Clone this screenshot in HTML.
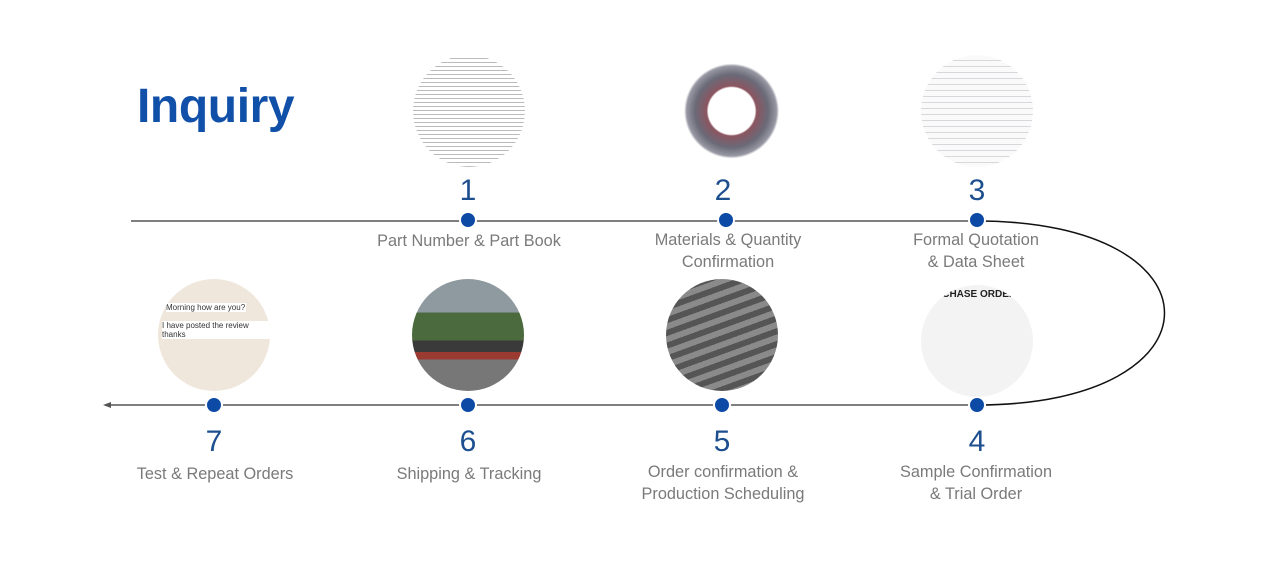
<!DOCTYPE html>
<html><head><meta charset="utf-8"><style>
body{margin:0;width:1267px;height:563px;background:#fff;position:relative;overflow:hidden;font-family:"Liberation Sans",sans-serif}
.t{position:absolute;text-align:center;color:#7a7a7a;font-size:16.3px;line-height:22px;width:240px}
.n{position:absolute;width:60px;text-align:center;color:#1d4f8f;font-size:30px;line-height:34px}
.c{position:absolute;width:112px;height:112px;border-radius:50%;overflow:hidden}
</style></head><body>
<div style="position:absolute;left:137px;top:79px;font-size:48px;font-weight:bold;color:#1150a8;letter-spacing:-0.4px">Inquiry</div>
<svg width="1267" height="563" style="position:absolute;left:0;top:0">
<line x1="131" y1="221" x2="977" y2="221" stroke="#555" stroke-width="1.5"/>
<path d="M977 221 C1227 221 1227 405 977 405" fill="none" stroke="#111" stroke-width="1.5"/>
<line x1="106" y1="405" x2="977" y2="405" stroke="#555" stroke-width="1.5"/>
<path d="M103 405 l8 -3 v6z" fill="#555"/>
<g fill="#0d4aa6" stroke="#fff" stroke-width="2">
<circle cx="468" cy="220" r="8"/><circle cx="726" cy="220" r="8"/><circle cx="977" cy="220" r="8"/>
<circle cx="214" cy="405" r="8"/><circle cx="468" cy="405" r="8"/><circle cx="722" cy="405" r="8"/><circle cx="977" cy="405" r="8"/>
</g></svg>
<div class="c" style="left:413px;top:55px;background:repeating-linear-gradient(#fff 0 3px,#bbb 3px 4px)"></div>
<div class="c" style="left:670px;top:55px;background:radial-gradient(circle at 55% 50%,#fff 0 28%,#8b5560 30%,#6a6a78 44%,#9898a4 54%,#fff 57%)"></div>
<div class="c" style="left:921px;top:55px;background:repeating-linear-gradient(#fafafa 0 5px,#d8d8dc 5px 6px)"></div>
<div class="c" style="left:921px;top:285px;background:#f3f3f3"><div style="font-size:10px;font-weight:bold;margin:4px 0 0 14px;color:#222">RCHASE ORDER</div></div>
<div class="c" style="left:666px;top:279px;background:repeating-linear-gradient(160deg,#555 0 6px,#8a8a8a 6px 12px)"></div>
<div class="c" style="left:412px;top:279px;background:linear-gradient(#8f9aa0 0 30%,#4b6b3e 30% 55%,#3a3a3a 55% 65%,#9b3a30 65% 72%,#777 72%)"></div>
<div class="c" style="left:158px;top:279px;background:#efe7dc"><div style="font-size:8px;margin:24px 0 0 8px;color:#333;background:#fff;width:80px">Morning how are you?</div><div style="font-size:8px;margin:9px 0 0 4px;color:#333;background:#fff">I have posted the review thanks</div></div>
<div class="n" style="left:438px;top:174px">1</div>
<div class="n" style="left:693px;top:174px">2</div>
<div class="n" style="left:947px;top:174px">3</div>
<div class="n" style="left:184px;top:425px">7</div>
<div class="n" style="left:438px;top:425px">6</div>
<div class="n" style="left:692px;top:425px">5</div>
<div class="n" style="left:947px;top:425px">4</div>
<div class="t" style="left:349px;top:230px">Part Number &amp; Part Book</div>
<div class="t" style="left:608px;top:229px">Materials &amp; Quantity<br>Confirmation</div>
<div class="t" style="left:856px;top:229px">Formal Quotation<br>&amp; Data Sheet</div>
<div class="t" style="left:95px;top:463px">Test &amp; Repeat Orders</div>
<div class="t" style="left:349px;top:463px">Shipping &amp; Tracking</div>
<div class="t" style="left:603px;top:461px">Order confirmation &amp;<br>Production Scheduling</div>
<div class="t" style="left:856px;top:461px">Sample Confirmation<br>&amp; Trial Order</div>
</body></html>
